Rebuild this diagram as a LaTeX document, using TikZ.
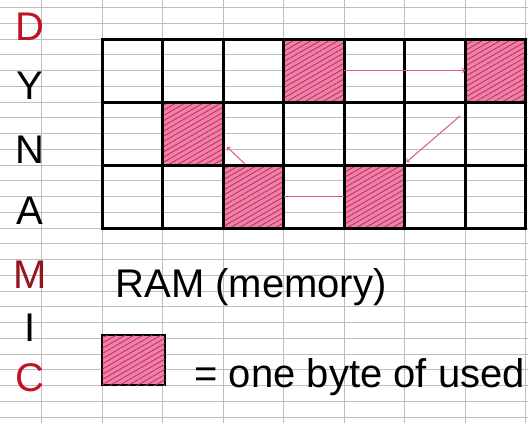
\documentclass[tikz,border=0pt]{standalone}
\usepackage{fontspec}
\setmainfont{Liberation Sans}
\usetikzlibrary{patterns.meta,backgrounds}

\definecolor{inkpink}{RGB}{236,130,168}
\definecolor{hatchpink}{RGB}{200,35,95}
\definecolor{linkpink}{RGB}{222,85,130}
\definecolor{paperline}{RGB}{190,190,190}
\definecolor{inkred}{RGB}{190,20,35}
\definecolor{darkred}{RGB}{150,20,30}

\begin{document}
\begin{tikzpicture}[
    x=1pt, y=-1pt,
    cell/.style = {draw, line width=3pt, minimum width=60.5pt, minimum height=63pt, inner sep=0pt, outer sep=0pt},
    used/.style = {fill=inkpink, postaction={pattern={Lines[angle=30, distance=4.5pt, line width=0.8pt]}, pattern color=hatchpink}},
    link/.style = {linkpink, line width=1pt},
    paper/.style = {paperline, line width=0.6pt},
    letter/.style = {font=\fontsize{40}{40}\selectfont}
]
\useasboundingbox (0,0) rectangle (528,423);

% --- MEMORIA: 3 filas x 7 columnas ---
\foreach \r in {0,1,2} {
    \foreach \c in {0,...,6} {
        \node[cell] (c-\r-\c) at ({132.25+60.5*\c}, {70.5+63*\r}) {};
    }
}

% --- PALABRA VERTICAL ---
\foreach \ltr/\y/\clr in {D/27/inkred, Y/86/black, N/150/black, A/211/black, M/275/darkred, I/328/black, C/378/inkred} {
    \node[letter, text=\clr] (l-\ltr) at (30, \y) {\ltr};
}

% Título y leyenda
\node[anchor=base west, font=\fontsize{40}{42}\selectfont] (ram) at (112, 297) {RAM (memory)};
\node[cell, used, line width=2.5pt, minimum width=63pt, minimum height=50pt] (key) at (133.5, 360) {};
\node[anchor=base west, font=\fontsize{40}{42}\selectfont] (key text) at (191, 387) {= one byte of used};

% --- ENLACES ---
\draw[link, ->] (c-0-3.east) -- (c-0-6.west);
\draw[link, ->] ([shift={(-5,14)}]c-0-6.south west) -- ([shift={(2,-3)}]c-2-4.north east);
\draw[link] (c-2-4.west) -- (c-2-2.east);
\draw[link, ->] ([shift={(22,-1)}]c-2-2.north west) -- ([shift={(4,-18)}]c-1-1.south east);

% --- PAPEL CUADRICULADO Y CELDAS USADAS ---
\begin{scope}[on background layer]
    \fill[white] (0,0) rectangle (528,423);
    \foreach \k in {0,...,26}
        \draw[paper] (0, {7.5+15.75*\k}) -- (528, {7.5+15.75*\k});
    \foreach \k in {-1,...,7}
        \draw[paper] ({102+60.5*\k}, 0) -- ({102+60.5*\k}, 423);
    \foreach \cl in {0-3, 0-6, 1-1, 2-2, 2-4}
        \path[used] (c-\cl.north west) rectangle (c-\cl.south east);
\end{scope}

\end{tikzpicture}
\end{document}
